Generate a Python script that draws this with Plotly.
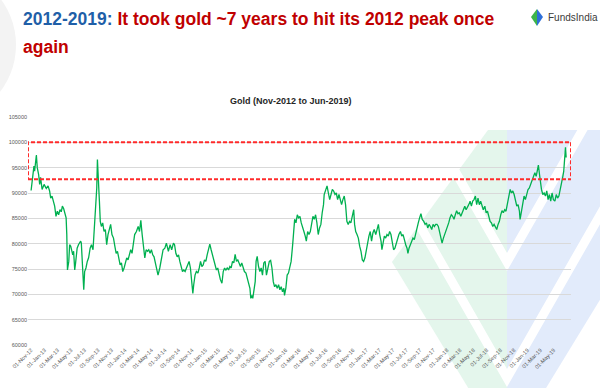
import plotly.graph_objects as go
import pandas as pd

# ---------------- data ----------------
dates_2012 = ["2012-11-01","2012-11-05","2012-11-10","2012-11-14","2012-11-17","2012-11-22","2012-11-25",
              "2012-11-29","2012-12-05","2012-12-10","2012-12-14","2012-12-21","2012-12-30"]
price_2012 = [90500,92400,95000,95300,94300,96300,97500,95000,93700,91700,93100,90700,91700]

dates_2013 = ["2013-01-09","2013-01-17","2013-01-24","2013-01-29","2013-02-04","2013-02-08","2013-02-16",
              "2013-02-22","2013-02-28","2013-03-06","2013-03-12","2013-03-18","2013-03-23","2013-03-29",
              "2013-04-04","2013-04-09","2013-04-12","2013-04-15","2013-04-21","2013-04-25","2013-04-30",
              "2013-05-04","2013-05-09","2013-05-13","2013-05-18","2013-05-22","2013-05-29","2013-06-04",
              "2013-06-10","2013-06-14","2013-06-17","2013-06-20","2013-06-25","2013-06-28","2013-07-02",
              "2013-07-08","2013-07-14","2013-07-20","2013-07-27","2013-08-02","2013-08-09","2013-08-14",
              "2013-08-20","2013-08-23","2013-08-26","2013-08-29","2013-09-01","2013-09-04","2013-09-07",
              "2013-09-11","2013-09-16","2013-09-22","2013-09-28","2013-10-04","2013-10-10","2013-10-16",
              "2013-10-22","2013-10-28","2013-11-03","2013-11-10","2013-11-16","2013-11-22","2013-11-28",
              "2013-12-04","2013-12-10","2013-12-16","2013-12-22","2013-12-28"]
price_2013 = [90900,91400,90400,89000,89400,88700,87400,85400,86400,85700,86700,86300,87400,86900,
              85700,85100,81800,74800,76500,79800,79500,78800,77800,78500,74800,76200,79100,79800,
              80100,80500,80100,76500,72500,70900,74500,75200,76500,77200,79100,79800,78800,81800,
              85700,89000,91000,96600,94300,92400,88400,84400,83400,84100,82400,82800,79800,81800,
              83100,83800,81800,81100,79500,78100,78500,76800,75800,76200,74500,75200]

dates_2014 = ["2014-01-03","2014-01-09","2014-01-15","2014-01-21","2014-01-27","2014-02-02","2014-02-08",
              "2014-02-14","2014-02-22","2014-03-02","2014-03-08","2014-03-14","2014-03-20","2014-03-26",
              "2014-04-01","2014-04-07","2014-04-13","2014-04-19","2014-04-25","2014-05-01","2014-05-07",
              "2014-05-13","2014-05-19","2014-05-25","2014-05-31","2014-06-08","2014-06-16","2014-06-23",
              "2014-07-01","2014-07-08","2014-07-17","2014-07-25","2014-08-01","2014-08-09","2014-08-14",
              "2014-08-20","2014-08-26","2014-09-01","2014-09-07","2014-09-13","2014-09-19","2014-09-25",
              "2014-10-01","2014-10-07","2014-10-13","2014-10-19","2014-10-25","2014-10-31","2014-11-05",
              "2014-11-09","2014-11-15","2014-11-21","2014-11-28","2014-12-04","2014-12-10","2014-12-16",
              "2014-12-22","2014-12-28"]
price_2014 = [76500,77200,76800,78100,78800,78100,79800,81800,82400,83400,82400,84600,81800,79800,
              77200,78800,78500,78800,78100,78800,77800,77400,76200,74500,73800,75200,77200,78800,
              79100,80100,78500,79800,78800,80100,79800,78100,77400,77800,76500,75200,74500,74800,
              74500,75200,75800,76500,75200,71900,70200,71900,73800,74500,74200,75200,76500,75500,
              75800,76800]

dates_2015 = ["2015-01-03","2015-01-09","2015-01-15","2015-01-21","2015-01-27","2015-02-02","2015-02-08",
              "2015-02-14","2015-02-20","2015-02-26","2015-03-04","2015-03-10","2015-03-17","2015-03-23",
              "2015-03-29","2015-04-04","2015-04-10","2015-04-16","2015-04-22","2015-04-28","2015-05-04",
              "2015-05-10","2015-05-16","2015-05-22","2015-05-28","2015-06-03","2015-06-09","2015-06-15",
              "2015-06-21","2015-06-27","2015-07-04","2015-07-10","2015-07-16","2015-07-22","2015-07-26",
              "2015-07-31","2015-08-04","2015-08-09","2015-08-15","2015-08-19","2015-08-24","2015-08-30",
              "2015-09-05","2015-09-11","2015-09-17","2015-09-23","2015-09-29","2015-10-05","2015-10-11",
              "2015-10-18","2015-10-24","2015-10-30","2015-11-05","2015-11-11","2015-11-17","2015-11-23",
              "2015-11-29","2015-12-05","2015-12-11","2015-12-17","2015-12-23","2015-12-26"]
price_2015 = [76500,77800,79100,79900,78800,77800,76800,75500,74800,75200,73800,72900,72200,74500,
              75200,74800,75200,74800,75500,75200,76500,76200,77900,76500,76800,76200,75500,76200,
              75200,74500,74200,73200,72500,71200,69200,69800,69200,70500,72500,76500,77500,75500,
              74500,75200,73800,76200,76500,73800,75500,76500,76700,75200,72500,71500,71900,71200,
              71900,70900,71500,70500,71200,69800]

dates_2016 = ["2016-01-01","2016-01-07","2016-01-13","2016-01-19","2016-01-25","2016-02-01","2016-02-05",
              "2016-02-10","2016-02-16","2016-02-22","2016-02-28","2016-03-05","2016-03-11","2016-03-17",
              "2016-03-23","2016-03-29","2016-04-03","2016-04-09","2016-04-15","2016-04-21","2016-04-27",
              "2016-05-03","2016-05-09","2016-05-15","2016-05-21","2016-05-27","2016-06-02","2016-06-08",
              "2016-06-14","2016-06-20","2016-06-23","2016-06-29","2016-07-06","2016-07-12","2016-07-18",
              "2016-07-24","2016-07-30","2016-08-05","2016-08-11","2016-08-17","2016-08-23","2016-08-29",
              "2016-09-04","2016-09-10","2016-09-16","2016-09-22","2016-09-28","2016-10-04","2016-10-10",
              "2016-10-16","2016-10-22","2016-10-28","2016-11-04","2016-11-08","2016-11-13","2016-11-19",
              "2016-11-25","2016-12-01","2016-12-07","2016-12-13","2016-12-19","2016-12-25","2016-12-31"]
price_2016 = [71200,73800,74200,75200,76500,79800,81800,84800,84100,85700,85100,85400,84100,83400,
              82400,81500,80500,82400,81800,82400,83800,85400,84800,85700,84100,81800,83100,83800,
              86100,87700,89700,90400,91400,90000,88700,89700,90700,90400,89700,90000,88700,89700,
              88400,87700,88700,89400,87700,84400,83800,84400,84100,85400,86700,83800,82400,81800,
              81100,79500,78500,76800,76500,77200,78800]

dates_2017 = ["2017-01-06","2017-01-12","2017-01-18","2017-01-24","2017-01-30","2017-02-05","2017-02-12",
              "2017-02-18","2017-02-24","2017-03-02","2017-03-08","2017-03-12","2017-03-17","2017-03-23",
              "2017-03-29","2017-04-04","2017-04-10","2017-04-16","2017-04-22","2017-04-28","2017-05-04",
              "2017-05-10","2017-05-16","2017-05-22","2017-05-28","2017-06-04","2017-06-10","2017-06-16",
              "2017-06-22","2017-06-28","2017-07-04","2017-07-08","2017-07-13","2017-07-19","2017-07-25",
              "2017-07-31","2017-08-06","2017-08-12","2017-08-18","2017-08-24","2017-08-30","2017-09-05",
              "2017-09-11","2017-09-18","2017-09-24","2017-09-30","2017-10-06","2017-10-12","2017-10-18",
              "2017-10-24","2017-10-30","2017-11-05","2017-11-11","2017-11-17","2017-11-23","2017-11-28",
              "2017-12-04","2017-12-10","2017-12-16","2017-12-22","2017-12-28"]
price_2017 = [80800,81500,82400,80500,82100,82800,81800,83100,83800,81800,80500,78800,80500,81500,
              81100,81800,81500,82400,81800,80500,78800,79100,80100,81100,81800,82400,81500,81800,
              80500,79800,79100,78100,79100,79800,80500,81100,80800,82100,82800,84100,85100,85900,
              84800,84400,83800,84100,83100,83800,83400,82800,83800,83400,83800,83800,83400,82400,
              81100,80100,81100,81800,82800]

dates_2018 = ["2018-01-03","2018-01-09","2018-01-15","2018-01-21","2018-01-27","2018-02-02","2018-02-08",
              "2018-02-14","2018-02-20","2018-02-26","2018-03-05","2018-03-11","2018-03-17","2018-03-23",
              "2018-03-29","2018-04-04","2018-04-10","2018-04-16","2018-04-22","2018-04-28","2018-05-04",
              "2018-05-10","2018-05-16","2018-05-22","2018-05-28","2018-06-03","2018-06-09","2018-06-15",
              "2018-06-22","2018-06-28","2018-07-04","2018-07-10","2018-07-16","2018-07-22","2018-07-28",
              "2018-08-03","2018-08-09","2018-08-15","2018-08-21","2018-08-27","2018-09-02","2018-09-08",
              "2018-09-14","2018-09-20","2018-09-26","2018-10-02","2018-10-09","2018-10-15","2018-10-21",
              "2018-10-27","2018-11-02","2018-11-08","2018-11-14","2018-11-20","2018-11-26","2018-11-29",
              "2018-12-05","2018-12-11","2018-12-17","2018-12-23","2018-12-29"]
price_2018 = [83100,84100,85100,85700,85400,84800,85700,86500,85900,86100,85400,86100,86400,87400,
              86700,87100,87700,88400,87400,88400,88700,89400,87700,89000,87700,88400,87700,86700,
              87400,86100,86400,85400,84400,84100,83400,83800,83100,82800,83800,84400,85700,86500,
              86100,86700,86400,87700,89000,90700,90000,90400,89700,88700,87400,87700,86400,84800,
              86700,88400,89400,88700,90000]

dates_2019 = ["2019-01-04","2019-01-10","2019-01-16","2019-01-23","2019-01-29","2019-02-04","2019-02-10",
              "2019-02-16","2019-02-20","2019-02-25","2019-03-01","2019-03-06","2019-03-12","2019-03-18",
              "2019-03-24","2019-03-30","2019-04-05","2019-04-11","2019-04-17","2019-04-23","2019-04-29",
              "2019-05-06","2019-05-12","2019-05-18","2019-05-24","2019-05-30","2019-06-05","2019-06-11",
              "2019-06-15","2019-06-20","2019-06-23","2019-06-26"]
price_2019 = [90700,91000,91700,92400,93300,94000,93300,94700,95500,93700,91700,90700,89700,90000,
              89400,90400,88700,89700,88400,90000,88700,88400,89700,89000,89400,91000,92400,93300,
              94300,97000,99000,97000]

# highlight box: the 2012 peak zone
box_dates = ["2012-10-18", "2019-07-18"]
box_prices = [92700, 100000]

# axis ticks
tick_dates = pd.date_range("2012-11-01", "2019-05-01", freq="2MS")
y_ticks = [60000, 65000, 70000, 75000, 80000, 85000, 90000, 95000, 100000, 105000]

title_year = "2012-2019:"
title_rest = "It took gold ~7 years to hit its 2012 peak once"
title_line2 = "again"
chart_title = "Gold (Nov-2012 to Jun-2019)"

dates = dates_2012 + dates_2013 + dates_2014 + dates_2015 + dates_2016 + dates_2017 + dates_2018 + dates_2019
prices = price_2012 + price_2013 + price_2014 + price_2015 + price_2016 + price_2017 + price_2018 + price_2019

# ---------------- layout helpers (pixel -> paper) ----------------
W, H = 600, 388
L, R, T, B = 28, 29, 117, 43
PW, PH = W - L - R, H - T - B


def fx(px):
    return (px - L) / PW


def fy(py):
    return (H - B - py) / PH


def path(points, close=True):
    s = "M " + " L ".join(f"{fx(a):.4f},{fy(b):.4f}" for a, b in points)
    return s + (" Z" if close else "")


FONT = "Liberation Sans, Arial, sans-serif"

fig = go.Figure()
fig.add_trace(go.Scatter(x=dates, y=prices, mode="lines",
                         line=dict(color="#00b050", width=1.3), hoverinfo="skip"))

shapes = []
# background watermark (decorative)
shapes.append(dict(type="path", xref="paper", yref="paper", layer="below",
                   path=path([(488, 130), (507, 130), (507, 452), (392, 262)]),
                   fillcolor="#e4f6ec", line=dict(width=0)))
shapes.append(dict(type="path", xref="paper", yref="paper", layer="below",
                   path=path([(507, 130), (623, 130), (623, 262), (507, 452)]),
                   fillcolor="#e2ebfb", line=dict(width=0)))
for vx, vy in [(507, 262), (507, 378)]:
    d = 200
    pts = [(vx - d / 1.75, vy - d), (vx, vy), (vx + d / 1.75, vy - d)]
    shapes.append(dict(type="path", xref="paper", yref="paper", layer="below",
                       path=path(pts, close=False), line=dict(color="white", width=9)))
# slide decoration at left
shapes.append(dict(type="circle", xref="paper", yref="paper", layer="below",
                   x0=fx(-130), x1=fx(16), y0=fy(120), y1=fy(-30),
                   fillcolor="#f3f3f3", line=dict(width=0)))
# logo icon
shapes.append(dict(type="path", xref="paper", yref="paper",
                   path=path([(537, 9), (537, 26), (531, 17)]),
                   fillcolor="#3cb54a", line=dict(width=0)))
shapes.append(dict(type="path", xref="paper", yref="paper",
                   path=path([(537, 9), (543, 17), (537, 26)]),
                   fillcolor="#2d6fd8", line=dict(width=0)))
# highlight box
shapes.append(dict(type="rect", xref="x", yref="y",
                   x0=box_dates[0], x1=box_dates[1], y0=box_prices[0], y1=box_prices[1],
                   line=dict(color="#ff2b2b", width=2, dash="4px,2px"), fillcolor="rgba(0,0,0,0)"))

annotations = [
    dict(xref="paper", yref="paper", x=fx(21), y=fy(19), xanchor="left", yanchor="middle",
         showarrow=False,
         text=f"<b><span style='color:#1f5fa8'>{title_year}</span> "
              f"<span style='color:#c00000'>{title_rest}</span></b>",
         font=dict(family=FONT, size=17.5, color="#c00000")),
    dict(xref="paper", yref="paper", x=fx(21), y=fy(47), xanchor="left", yanchor="middle",
         showarrow=False, text=f"<b>{title_line2}</b>",
         font=dict(family=FONT, size=17.5, color="#c00000")),
    dict(xref="paper", yref="paper", x=fx(291), y=fy(101), xanchor="center", yanchor="middle",
         showarrow=False, text=f"<b>{chart_title}</b>",
         font=dict(family=FONT, size=9, color="#262626")),
    dict(xref="paper", yref="paper", x=fx(546), y=fy(17), xanchor="left", yanchor="middle",
         showarrow=False, text="FundsIndia",
         font=dict(family=FONT, size=10, color="#3a3a3a")),
]

fig.update_layout(
    width=W, height=H,
    margin=dict(l=L, r=R, t=T, b=B, pad=0),
    paper_bgcolor="white", plot_bgcolor="rgba(0,0,0,0)",
    showlegend=False,
    shapes=shapes, annotations=annotations,
    xaxis=dict(type="date", range=box_dates, tickvals=tick_dates, tickformat="%d-%b-%y",
               tickangle=-45, tickfont=dict(family=FONT, size=5.5, color="#595959"),
               showgrid=False, zeroline=False, showline=False, ticks="", automargin=False),
    yaxis=dict(range=[y_ticks[0], y_ticks[-1]], tickvals=y_ticks, tickformat="d",
               tickfont=dict(family=FONT, size=5.5, color="#595959"),
               showgrid=True, gridcolor="#d9d9d9", gridwidth=1, zeroline=False, showline=False,
               ticks="", automargin=False),
)

fig.write_html("out.html", config={"displayModeBar": False},
               post_script="document.body.style.margin='0px';")
